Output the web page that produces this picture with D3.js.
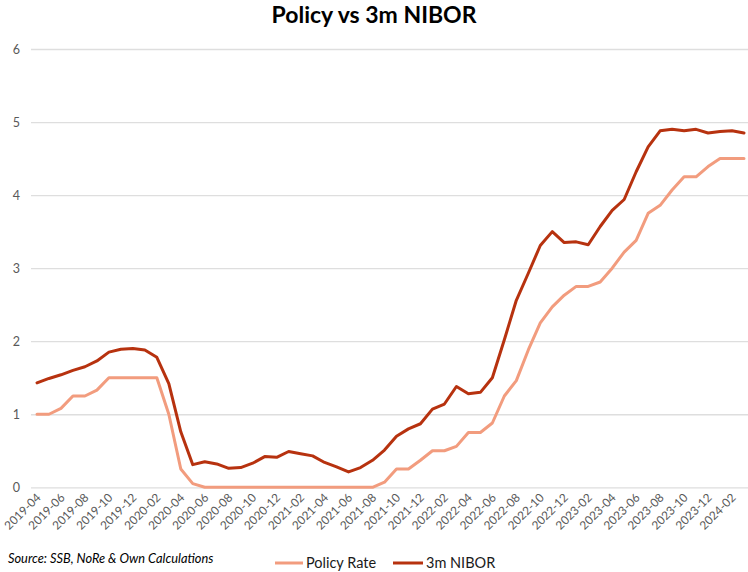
<!DOCTYPE html>
<html>
<head>
<meta charset="utf-8">
<script src="https://cdn.jsdelivr.net/npm/d3@7/dist/d3.min.js"></script>
<style>
  html, body { margin: 0; padding: 0; background: #fff; }
  svg { display: block; }
  text { font-family: "Lato", "Open Sans", "Liberation Sans", sans-serif; }
</style>
</head>
<body>
<svg id="chart" width="748" height="572"></svg>
<script>
// Monthly averages, 2019-04 .. 2024-03
const months = [];
for (let y = 2019; y <= 2024; y++) {
  for (let m = 1; m <= 12; m++) {
    if (y === 2019 && m < 4) continue;
    if (y === 2024 && m > 3) continue;
    months.push(y + "-" + String(m).padStart(2, "0"));
  }
}

const policyRate = [
  1.00, 1.00, 1.08, 1.25, 1.25, 1.33, 1.50, 1.50, 1.50, 1.50,
  1.50, 1.00, 0.25, 0.05, 0.00, 0.00, 0.00, 0.00, 0.00, 0.00,
  0.00, 0.00, 0.00, 0.00, 0.00, 0.00, 0.00, 0.00, 0.00, 0.07,
  0.25, 0.25, 0.37, 0.50, 0.50, 0.56, 0.75, 0.75, 0.88, 1.25,
  1.46, 1.88, 2.25, 2.47, 2.63, 2.75, 2.75, 2.81, 3.00, 3.22,
  3.38, 3.75, 3.86, 4.07, 4.25, 4.25, 4.39, 4.50, 4.50, 4.50
];

const nibor3m = [
  1.43, 1.49, 1.54, 1.60, 1.65, 1.73, 1.85, 1.89, 1.90, 1.88,
  1.78, 1.42, 0.76, 0.31, 0.35, 0.32, 0.26, 0.27, 0.33, 0.42,
  0.41, 0.49, 0.46, 0.43, 0.34, 0.28, 0.21, 0.27, 0.37, 0.51,
  0.70, 0.80, 0.87, 1.07, 1.14, 1.38, 1.28, 1.30, 1.50, 2.02,
  2.56, 2.93, 3.31, 3.50, 3.35, 3.36, 3.32, 3.57, 3.79, 3.94,
  4.32, 4.66, 4.88, 4.90, 4.88, 4.90, 4.85, 4.87, 4.88, 4.85
];

const yTicks = [0, 1, 2, 3, 4, 5, 6];
const xTickLabels = months.filter((d, i) => i % 2 === 0);

const series = [
  { name: "Policy Rate", values: policyRate, color: "#F29C7E" },
  { name: "3m NIBOR",    values: nibor3m,    color: "#B7320F" }
];

const svg = d3.select("#chart");
const gridLeft = 31, gridRight = 748;

const x = d3.scalePoint().domain(months).range([37, 744]);
const y = d3.scaleLinear().domain([0, 6]).range([487.3, 49]);

// Title
svg.append("text")
  .attr("x", 374).attr("y", 23)
  .attr("text-anchor", "middle")
  .attr("font-size", 23).attr("font-weight", "bold")
  .attr("fill", "#000")
  .text("Policy vs 3m NIBOR");

// Horizontal gridlines and value labels
const yAxis = d3.axisLeft(y).tickValues(yTicks).tickSize(-(gridRight - gridLeft)).tickPadding(11).tickFormat(d3.format("d"));
const gy = svg.append("g").attr("transform", `translate(${gridLeft},0)`).call(yAxis);
gy.select(".domain").remove();
gy.selectAll(".tick line").attr("stroke", "#dedede").attr("stroke-width", 1.3);
gy.selectAll(".tick text").attr("font-size", 12.5).attr("fill", "#595959");

// Category axis with rotated month labels
const xAxis = d3.axisBottom(x).tickValues(xTickLabels).tickSize(0).tickPadding(0);
const gx = svg.append("g").attr("transform", `translate(0,${y(0)})`).call(xAxis);
gx.select(".domain").remove();
gx.selectAll(".tick text")
  .attr("font-size", 11.8).attr("fill", "#595959")
  .attr("text-anchor", "end")
  .attr("dy", 0)
  .attr("transform", "translate(4,11) rotate(-45)");

// Lines
const line = d3.line()
  .x((d, i) => x(months[i]))
  .y(d => y(d))
  .curve(d3.curveLinear);

series.forEach(s => {
  svg.append("path")
    .datum(s.values)
    .attr("fill", "none")
    .attr("stroke", s.color)
    .attr("stroke-width", 3)
    .attr("stroke-linejoin", "round")
    .attr("stroke-linecap", "round")
    .attr("d", line);
});

// Source note
svg.append("text")
  .attr("x", 8).attr("y", 563)
  .attr("font-size", 12.8).attr("font-style", "italic")
  .attr("fill", "#000")
  .text("Source: SSB, NoRe & Own Calculations");

// Legend
const legendItems = [
  { s: series[0], x0: 275, x1: 303 },
  { s: series[1], x0: 393, x1: 423 }
];
legendItems.forEach(it => {
  svg.append("line")
    .attr("x1", it.x0).attr("x2", it.x1)
    .attr("y1", 563).attr("y2", 563)
    .attr("stroke", it.s.color).attr("stroke-width", 3);
  svg.append("text")
    .attr("x", it.x1 + 3).attr("y", 568)
    .attr("font-size", 14.5).attr("fill", "#1a1a1a")
    .text(it.s.name);
});
</script>
</body>
</html>
